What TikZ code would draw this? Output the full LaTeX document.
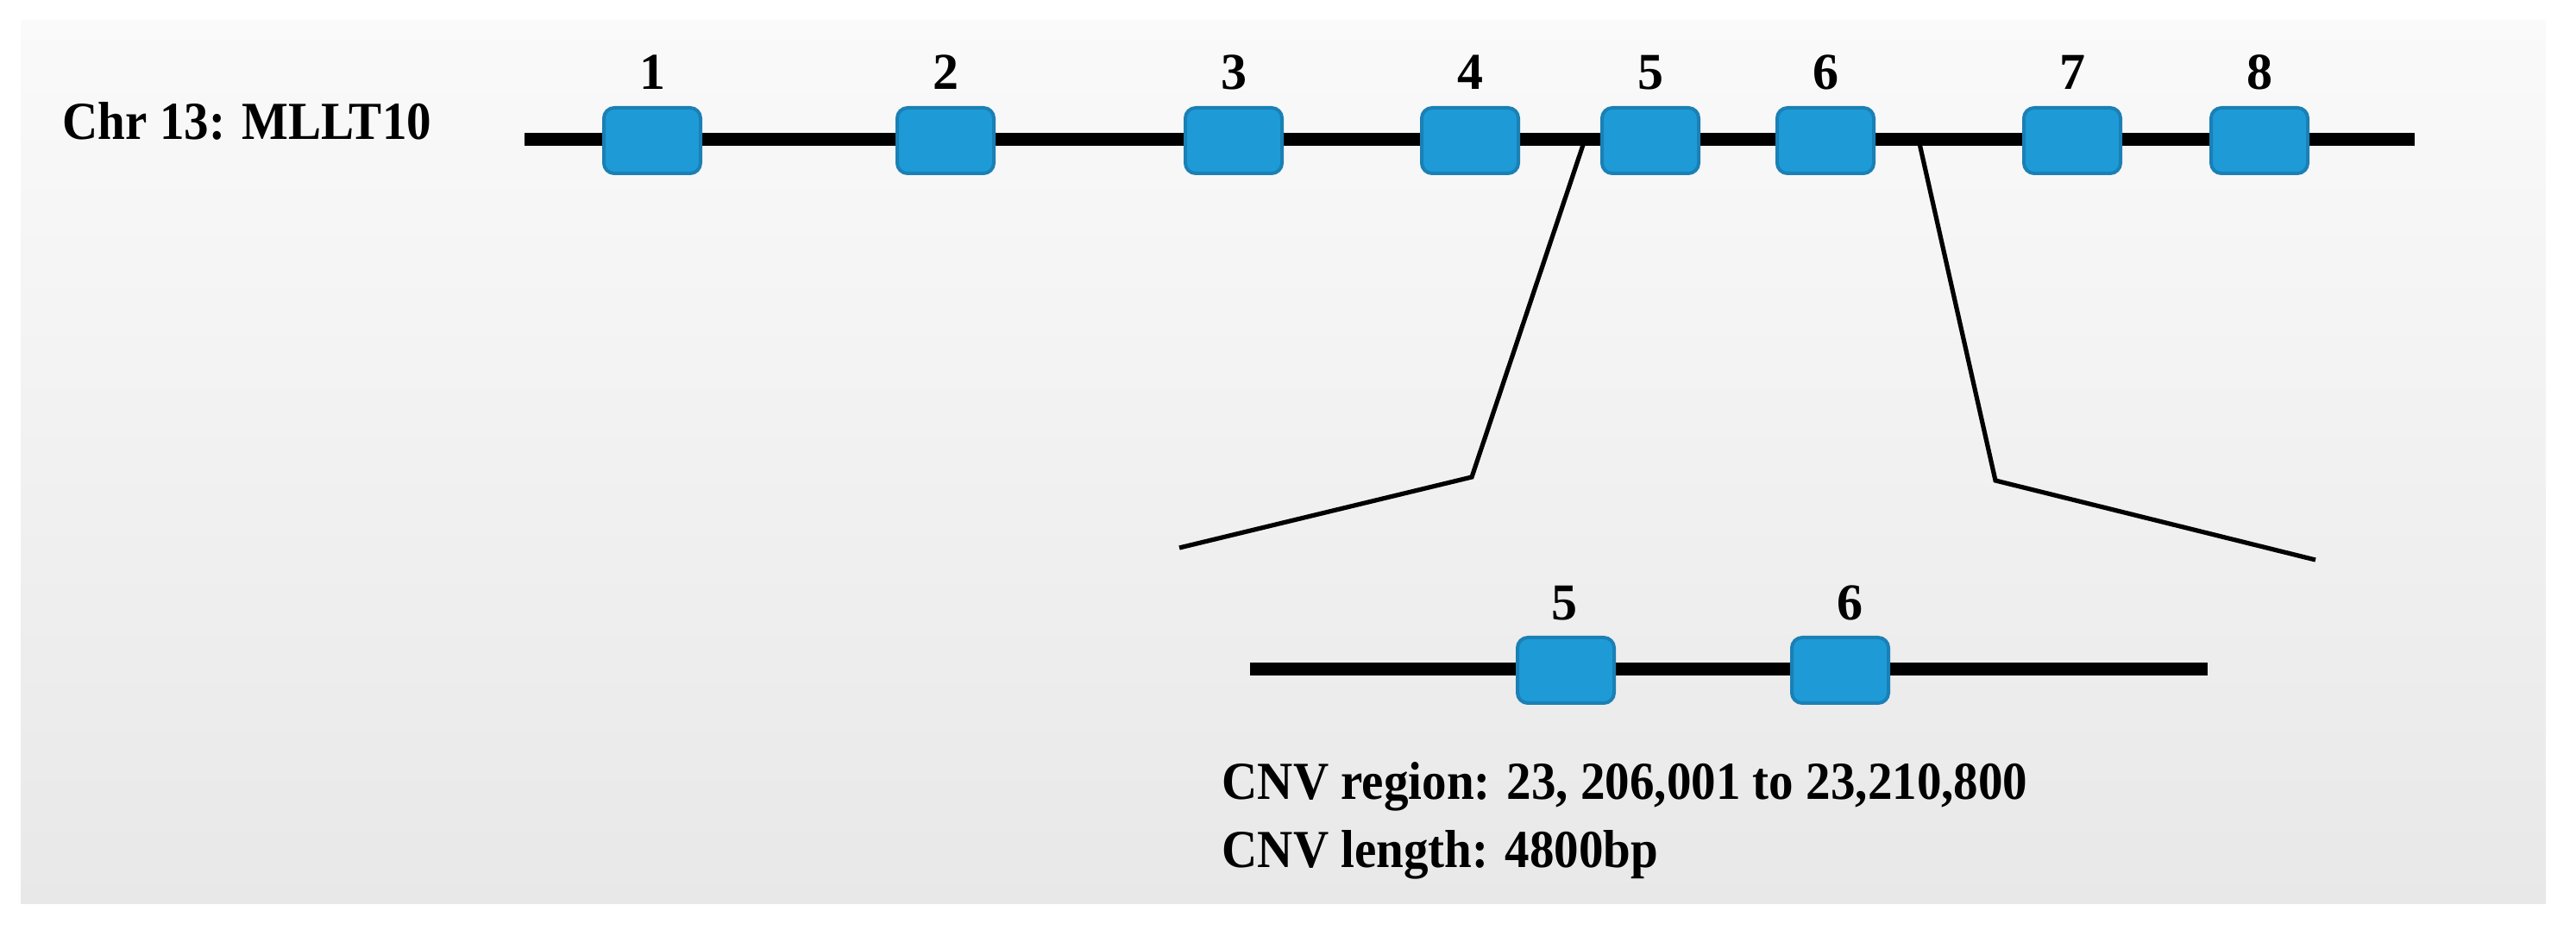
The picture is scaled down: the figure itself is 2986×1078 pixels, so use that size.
\documentclass[tikz,border=0pt]{standalone}
\usepackage{fontspec}
\setmainfont{Liberation Serif}
\definecolor{exon}{HTML}{1E9BD7}
\definecolor{exonb}{HTML}{1A80B5}
\begin{document}
\begin{tikzpicture}[x=0.25pt,y=-0.25pt,
  exon/.style={draw=exonb,line width=1pt,fill=exon,rounded corners=3pt,minimum width=28pt,minimum height=19pt,inner sep=0pt},
  num/.style={font=\bfseries\fontsize{15}{15}\selectfont,inner sep=0pt},
  gene/.style={line width=3.75pt},
  lab/.style={font=\bfseries\fontsize{15.5}{15.5}\selectfont,inner sep=0pt,anchor=base west,xscale=0.92,transform shape}]
\useasboundingbox (0,0) rectangle (2986,1078);
\shade[top color=white!98!black,bottom color=white!91!black] (24,24) rectangle (2951,1047);
\node[lab,anchor=mid west] (chr) at (72,152) {Chr 13: MLLT10};
\coordinate (gs) at (608,162); \coordinate (ge) at (2799,162);
\draw[gene] (gs) -- (ge);
\foreach \n/\x in {1/756,2/1096,3/1430,4/1704,5/1913,6/2116,7/2402,8/2619}{
  \node[exon] (e\n) at (\x,163) {};
  \node[num] (n\n) at (\x,84) {\n};
}
\coordinate (lt) at (1837,162); \coordinate (lk) at (1706,553); \coordinate (le) at (1367,635);
\coordinate (rt) at (2224,162); \coordinate (rk) at (2313,557); \coordinate (re) at (2684,649);
\draw[line width=1.3pt] (lt) -- (lk) -- (le);
\draw[line width=1.3pt] (rt) -- (rk) -- (re);
\coordinate (ls) at (1449,776); \coordinate (lend) at (2559,776);
\draw[gene] (ls) -- (lend);
\node[exon] (z5) at (1815,777) {};
\node[exon] (z6) at (2133,777) {};
\node[num] (m5) at (1813,699) {5};
\node[num] (m6) at (2144,699) {6};
\node[lab] (t1) at (1416,926) {CNV region: 23, 206,001 to 23,210,800};
\node[lab] (t2) at (1416,1005) {CNV length: 4800bp};
\end{tikzpicture}
\end{document}
